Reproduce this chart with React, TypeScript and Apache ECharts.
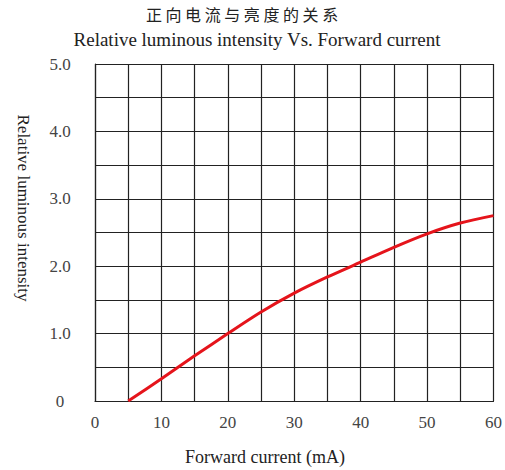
import React, { useEffect, useRef } from "react";
import * as echarts from "echarts";

const titleZh = "正 向 电 流 与 亮 度 的 关 系";
const titleEn = "Relative luminous intensity Vs. Forward current";
const xName = "Forward current (mA)";
const yName = "Relative luminous intensity";
const currentMA = [5, 10, 15, 20, 25, 30, 35, 40, 45, 50, 55, 60];
const intensity = [0, 0.33, 0.67, 1.0, 1.32, 1.6, 1.84, 2.06, 2.28, 2.48, 2.64, 2.75];

export default function App() {
  const ref = useRef<HTMLDivElement>(null);
  useEffect(() => {
    document.body.style.margin = "0";
    const chart = echarts.init(ref.current!, null, { renderer: "svg" });
    const serif = "'Liberation Serif', 'DejaVu Serif', serif";
    chart.setOption({
      animation: false,
      backgroundColor: "#fff",
      grid: { left: 95, right: 6, top: 64, bottom: 69, show: false },
      graphic: [
        {
          type: "text",
          x: 242,
          y: 14,
          style: { text: titleZh, font: "16px 'Noto Sans CJK SC'", fill: "#222", align: "center", verticalAlign: "middle" },
        },
        {
          type: "text",
          x: 257,
          y: 39,
          style: { text: titleEn, font: `19px ${serif}`, fill: "#222", align: "center", verticalAlign: "middle" },
        },
        {
          type: "text",
          x: 23,
          y: 208,
          rotation: -Math.PI / 2,
          style: { text: yName, font: `17px ${serif}`, fill: "#222", align: "center", verticalAlign: "middle" },
        },
        {
          type: "text",
          x: 265,
          y: 457,
          style: { text: xName, font: `18px ${serif}`, fill: "#222", align: "center", verticalAlign: "middle" },
        },
      ],
      xAxis: {
        type: "value",
        min: 0,
        max: 60,
        interval: 5,
        axisLine: { show: true, lineStyle: { color: "#222", width: 1.2 } },
        axisTick: { show: false },
        axisLabel: {
          margin: 13,
          fontFamily: serif,
          fontSize: 17,
          color: "#444",
          formatter: (v: number) => (v % 10 === 0 ? String(v) : ""),
        },
        splitLine: { show: true, lineStyle: { color: "#222", width: 1.2 } },
      },
      yAxis: {
        type: "value",
        min: 0,
        max: 5,
        interval: 0.5,
        axisLine: { show: true, lineStyle: { color: "#222", width: 1.2 } },
        axisTick: { show: false },
        axisLabel: {
          margin: 35,
          align: "center",
          fontFamily: serif,
          fontSize: 17,
          color: "#444",
          formatter: (v: number) => (v === 0 ? "0" : Math.abs(v - Math.round(v)) < 1e-6 ? v.toFixed(1) : ""),
        },
        splitLine: { show: true, lineStyle: { color: "#222", width: 1.2 } },
      },
      series: [
        {
          type: "line",
          data: currentMA.map((x, i) => [x, intensity[i]]),
          smooth: 0.3,
          showSymbol: false,
          lineStyle: { color: "#e5141b", width: 3 },
        },
      ],
    });
    return () => chart.dispose();
  }, []);
  return <div ref={ref} style={{ width: 505, height: 470 }} />;
}
